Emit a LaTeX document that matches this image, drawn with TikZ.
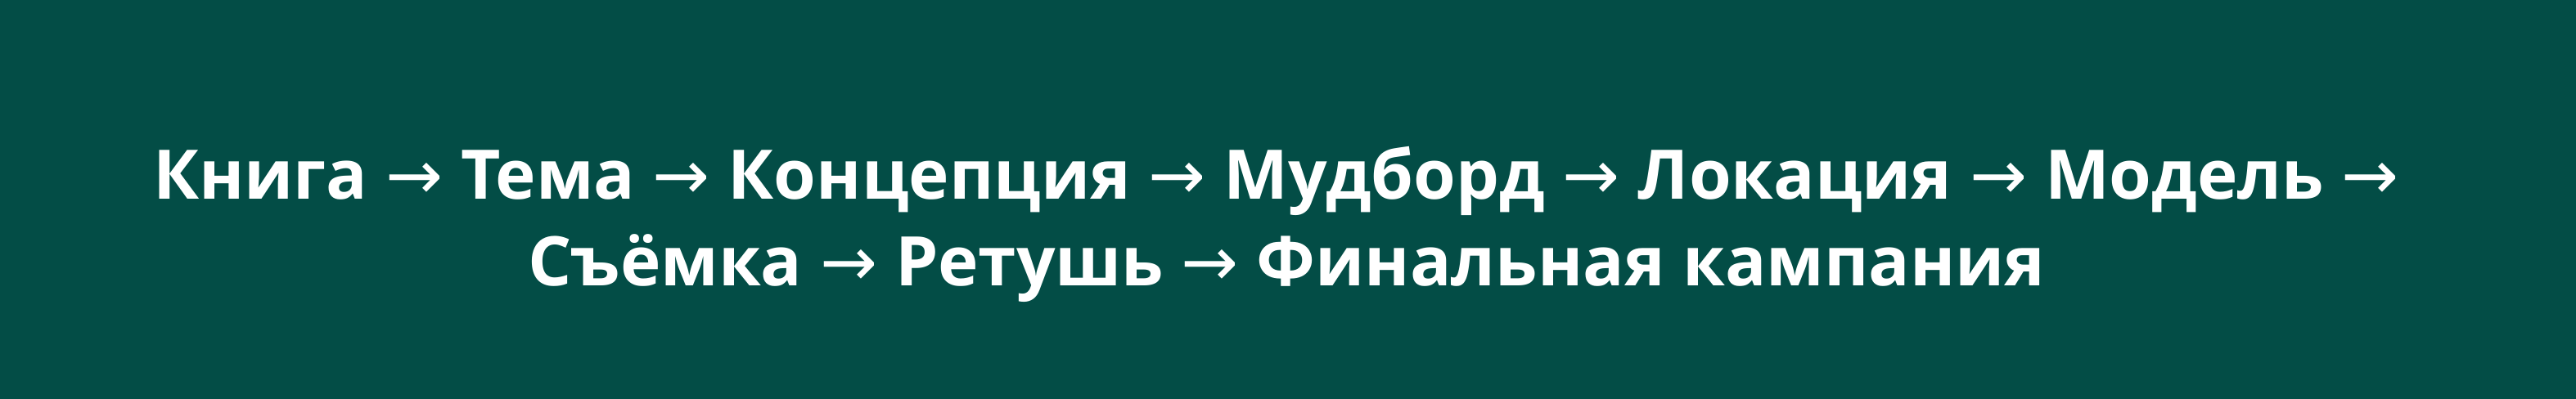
\documentclass[tikz,border=0pt]{standalone}
\usepackage{fontspec}
\setmainfont{Open Sans}
\newfontfamily\arrowfont{DejaVu Sans}
\newcommand{\toArrow}{{\arrowfont\mdseries →}}
\usetikzlibrary{positioning}
\definecolor{bgGreen}{RGB}{3,77,70}

\begin{document}
\begin{tikzpicture}[lineND/.style={text=white,
                                   font=\fontsize{23.8}{30}\selectfont\bfseries,
                                   inner sep=0pt,
                                   anchor=base}]
    \fill[bgGreen] (0,0) rectangle (31.48,4.88);
    \node[lineND](L1) at (15.595,2.44) {Книга \toArrow{} Тема \toArrow{} Концепция \toArrow{} Мудборд \toArrow{} Локация \toArrow{} Модель \toArrow};
    \node[lineND](L2) at (15.725,1.38) {Съёмка \toArrow{} Ретушь \toArrow{} Финальная кампания};
\end{tikzpicture}
\end{document}
